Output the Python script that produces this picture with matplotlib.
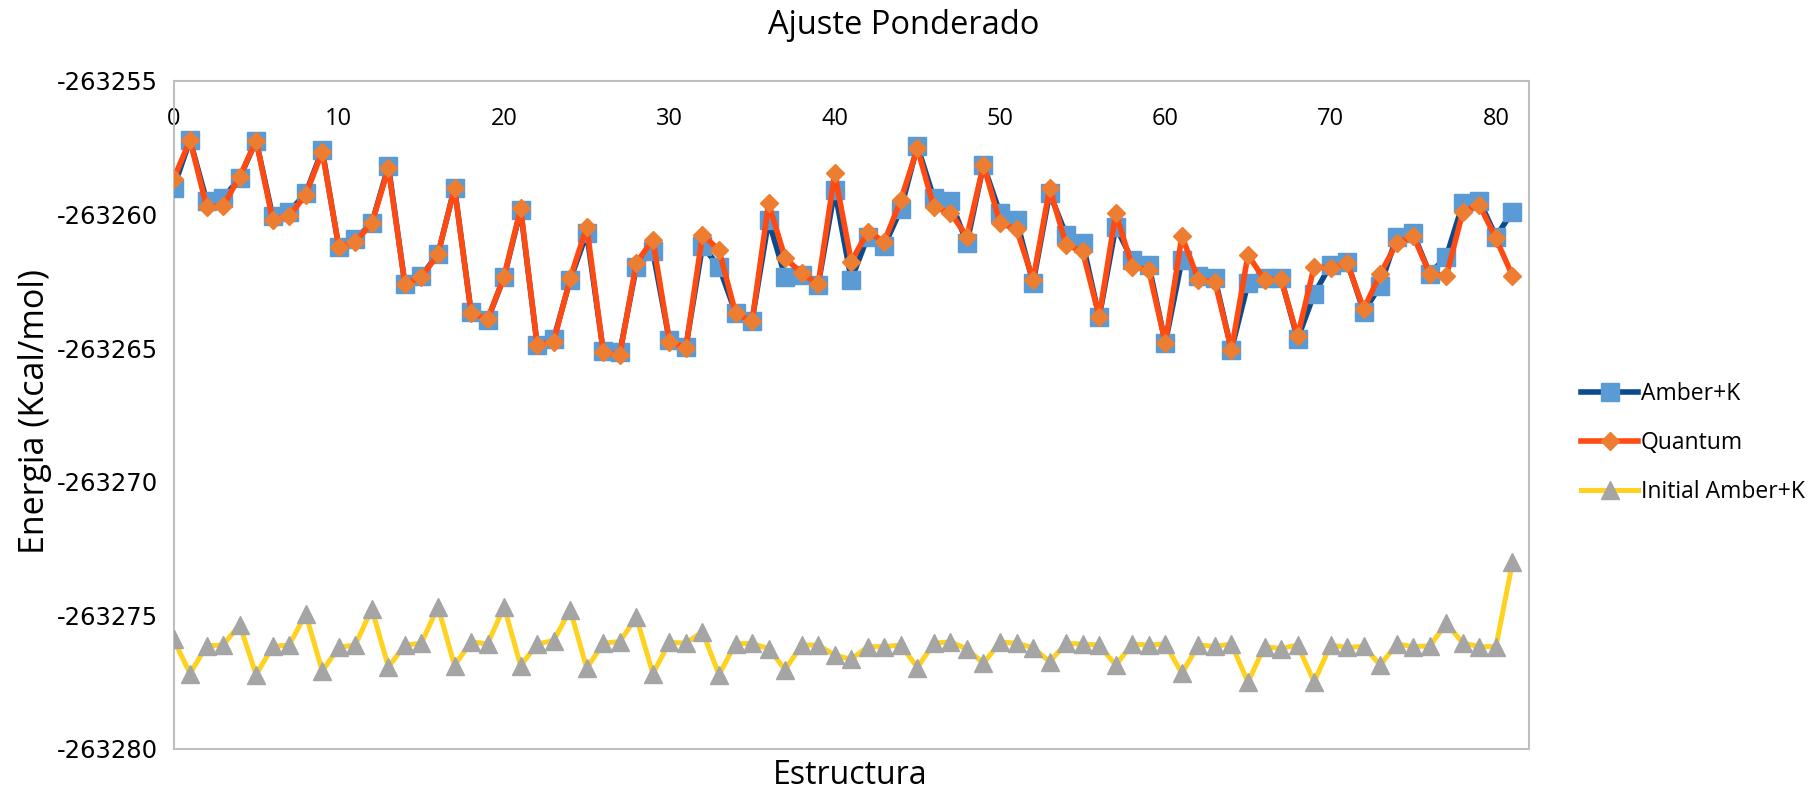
import matplotlib
matplotlib.use("Agg")
import matplotlib.pyplot as plt
from matplotlib.ticker import FuncFormatter, FixedLocator

estructura = list(range(82))

amber_k = [
    -263259.01, -263257.21, -263259.48, -263259.39, -263258.64, -263257.23, -263260.07, -263259.89, -263259.20, -263257.58,
    -263261.23, -263260.92, -263260.32, -263258.18, -263262.61, -263262.29, -263261.48, -263258.99, -263263.63, -263263.94,
    -263262.34, -263259.83, -263264.88, -263264.66, -263262.44, -263260.70, -263265.12, -263265.16, -263261.95, -263261.38,
    -263264.71, -263264.94, -263261.17, -263261.95, -263263.67, -263263.97, -263260.22, -263262.32, -263262.26, -263262.63,
    -263259.08, -263262.44, -263260.82, -263261.17, -263259.80, -263257.43, -263259.39, -263259.48, -263261.07, -263258.14,
    -263259.95, -263260.20, -263262.57, -263259.20, -263260.76, -263261.05, -263263.84, -263260.45, -263261.70, -263261.88,
    -263264.81, -263261.70, -263262.29, -263262.38, -263265.06, -263262.57, -263262.38, -263262.38, -263264.66, -263262.97,
    -263261.88, -263261.76, -263263.63, -263262.67, -263260.82, -263260.70, -263262.22, -263261.57, -263259.58, -263259.48,
    -263260.82, -263259.89,
]

quantum = [
    -263258.68, -263257.21, -263259.70, -263259.68, -263258.58, -263257.23, -263260.20, -263260.05, -263259.26, -263257.64,
    -263261.20, -263261.01, -263260.32, -263258.27, -263262.61, -263262.34, -263261.48, -263259.01, -263263.67, -263263.92,
    -263262.32, -263259.76, -263264.88, -263264.75, -263262.38, -263260.45, -263265.16, -263265.25, -263261.80, -263260.95,
    -263264.75, -263264.98, -263260.76, -263261.32, -263263.69, -263264.00, -263259.58, -263261.63, -263262.19, -263262.61,
    -263258.45, -263261.76, -263260.64, -263261.01, -263259.45, -263257.52, -263259.73, -263259.93, -263260.82, -263258.14,
    -263260.32, -263260.55, -263262.44, -263259.01, -263261.13, -263261.38, -263263.82, -263259.95, -263261.95, -263262.07,
    -263264.81, -263260.80, -263262.44, -263262.51, -263265.06, -263261.51, -263262.44, -263262.42, -263264.56, -263261.95,
    -263262.01, -263261.80, -263263.54, -263262.22, -263261.07, -263260.80, -263262.22, -263262.29, -263259.89, -263259.64,
    -263260.89, -263262.29,
]

initial_amber_k = [
    -263275.89, -263277.18, -263276.14, -263276.11, -263275.35, -263277.22, -263276.16, -263276.11, -263274.95, -263277.08,
    -263276.20, -263276.10, -263274.76, -263276.93, -263276.11, -263276.04, -263274.67, -263276.88, -263275.99, -263276.07,
    -263274.68, -263276.88, -263276.07, -263275.94, -263274.79, -263276.98, -263276.04, -263275.98, -263275.07, -263277.18,
    -263276.01, -263276.04, -263275.61, -263277.22, -263276.06, -263276.05, -263276.24, -263277.03, -263276.11, -263276.11,
    -263276.49, -263276.64, -263276.17, -263276.17, -263276.11, -263276.95, -263276.04, -263275.99, -263276.26, -263276.79,
    -263276.00, -263276.04, -263276.21, -263276.73, -263276.05, -263276.07, -263276.11, -263276.86, -263276.07, -263276.11,
    -263276.07, -263277.17, -263276.11, -263276.16, -263276.07, -263277.50, -263276.17, -263276.24, -263276.11, -263277.49,
    -263276.11, -263276.20, -263276.16, -263276.86, -263276.07, -263276.17, -263276.14, -263275.30, -263276.03, -263276.17,
    -263276.17, -263273.02,
]

x_ticks = [0, 10, 20, 30, 40, 50, 60, 70, 80]
y_ticks = [-263280, -263275, -263270, -263265, -263260, -263255]
series_names = ["Amber+K", "Quantum", "Initial Amber+K"]

plt.rcParams['font.family'] = ['Open Sans', 'DejaVu Sans']

fig = plt.figure(figsize=(18.13, 7.96), dpi=100)
ax = fig.add_axes([173.5 / 1813, 1 - 749 / 796, (1529 - 173.5) / 1813, (749 - 81) / 796])

ax.plot(estructura, amber_k, color='#0B4A8C', lw=4.0, marker='s', ms=13.5,
        mfc='#5B9BD5', mec='#5B9BD5', label=series_names[0], zorder=3)
ax.plot(estructura, quantum, color='#FF4A12', lw=4.0, marker='D', ms=9.0,
        mfc='#ED7D31', mec='#ED7D31', label=series_names[1], zorder=4)
ax.plot(estructura, initial_amber_k, color='#FFD21F', lw=3.6, marker='^', ms=13.5,
        mfc='#A5A5A5', mec='#A5A5A5', label=series_names[2], zorder=3)

ax.set_xlim(0, 82)
ax.set_ylim(-263280, -263255)
ax.xaxis.set_major_locator(FixedLocator(x_ticks))
ax.yaxis.set_major_locator(FixedLocator(y_ticks))
ax.yaxis.set_major_formatter(FuncFormatter(lambda v, p: f"{v:.0f}"))

ax.xaxis.set_ticks_position('top')
ax.tick_params(axis='x', length=0, pad=-36, labelsize=17, labeltop=True, labelbottom=False)
ax.tick_params(axis='y', length=0, pad=11, labelsize=17.5)
for lab in ax.get_yticklabels():
    lab.set_family('DejaVu Sans')

for s in ax.spines.values():
    s.set_color('#BFBFBF')
    s.set_linewidth(1.5)

fig.text(904 / 1813, 1 - 25 / 796, "Ajuste Ponderado", ha='center', va='center', fontsize=23.5)
fig.text(850 / 1813, 1 - 775 / 796, "Estructura", ha='center', va='center', fontsize=23)
fig.text(35 / 1813, 1 - 411 / 796, "Energia (Kcal/mol)", ha='center', va='center',
         rotation=90, fontsize=24.5)

leg = fig.legend(loc='center left', bbox_to_anchor=(1572 / 1813, 1 - 443 / 796),
                 frameon=False, fontsize=16.5, handlelength=2.5, handletextpad=0.1,
                 labelspacing=1.1, borderaxespad=0)

fig.savefig("out.png", dpi=100)
